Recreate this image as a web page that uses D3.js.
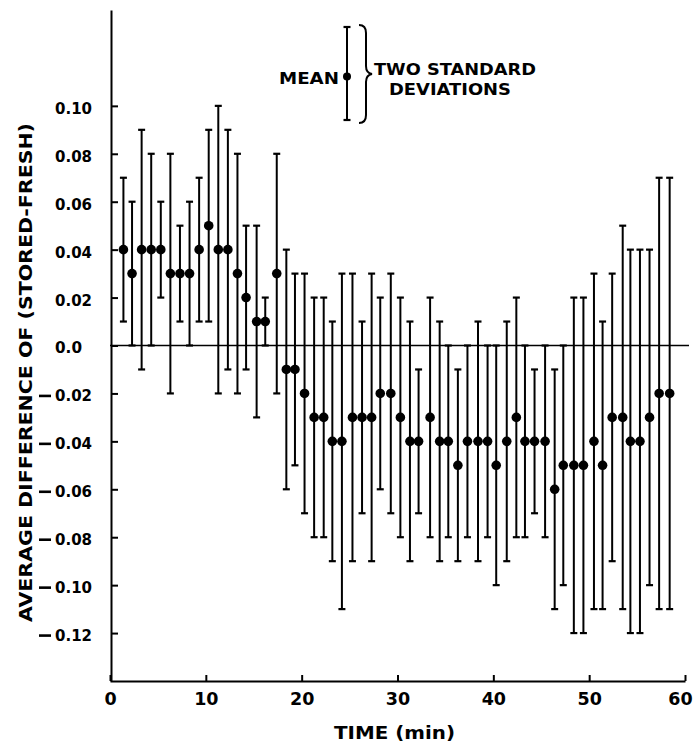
<!DOCTYPE html>
<html>
<head>
<meta charset="utf-8">
<script src="https://cdn.jsdelivr.net/npm/d3@7"></script>
<style>
  html, body { margin: 0; padding: 0; background: #fff; }
  svg { display: block; }
  text { font-family: "DejaVu Sans", sans-serif; font-weight: bold; fill: #000; }
</style>
</head>
<body>
<svg id="chart" width="696" height="742"></svg>
<script>
// Sampling times (min) of each measurement
const times = [1.4, 2.3, 3.3, 4.3, 5.3, 6.3, 7.3, 8.3, 9.3, 10.3,
  11.3, 12.3, 13.3, 14.2, 15.3, 16.2, 17.4, 18.4, 19.3, 20.3,
  21.3, 22.3, 23.2, 24.2, 25.3, 26.3, 27.3, 28.2, 29.3, 30.3,
  31.3, 32.2, 33.4, 34.4, 35.3, 36.3, 37.3, 38.4, 39.4, 40.3,
  41.4, 42.4, 43.3, 44.3, 45.4, 46.4, 47.3, 48.4, 49.4, 50.5,
  51.4, 52.4, 53.5, 54.3, 55.3, 56.3, 57.3, 58.4];

// Mean of (stored - fresh) at each time
const means = [0.04, 0.03, 0.04, 0.04, 0.04, 0.03, 0.03, 0.03, 0.04, 0.05,
  0.04, 0.04, 0.03, 0.02, 0.01, 0.01, 0.03, -0.01, -0.01, -0.02,
  -0.03, -0.03, -0.04, -0.04, -0.03, -0.03, -0.03, -0.02, -0.02, -0.03,
  -0.04, -0.04, -0.03, -0.04, -0.04, -0.05, -0.04, -0.04, -0.04, -0.05,
  -0.04, -0.03, -0.04, -0.04, -0.04, -0.06, -0.05, -0.05, -0.05, -0.04,
  -0.05, -0.03, -0.03, -0.04, -0.04, -0.03, -0.02, -0.02];

// Two standard deviations (half-length of each bar)
const twoSD = [0.03, 0.03, 0.05, 0.04, 0.02, 0.05, 0.02, 0.03, 0.03, 0.04,
  0.06, 0.05, 0.05, 0.03, 0.04, 0.01, 0.05, 0.05, 0.04, 0.05,
  0.05, 0.05, 0.05, 0.07, 0.06, 0.04, 0.06, 0.04, 0.05, 0.05,
  0.05, 0.03, 0.05, 0.05, 0.04, 0.04, 0.04, 0.05, 0.04, 0.05,
  0.05, 0.05, 0.04, 0.03, 0.04, 0.05, 0.05, 0.07, 0.07, 0.07,
  0.06, 0.06, 0.08, 0.08, 0.08, 0.07, 0.09, 0.09];

const xTickValues = [0, 10, 20, 30, 40, 50, 60];
const xTickLabels = ["0", "10", "20", "30", "40", "50", "60"];
const yTickValues = [0.10, 0.08, 0.06, 0.04, 0.02, 0.0, -0.02, -0.04, -0.06, -0.08, -0.10, -0.12];
const yTickLabels = ["0.10", "0.08", "0.06", "0.04", "0.02", "0.0",
  "-0.02", "-0.04", "-0.06", "-0.08", "-0.10", "-0.12"];

const svg = d3.select("#chart");

const x = d3.scaleLinear().domain([0, 60]).range([110, 685]);
const y = d3.scaleLinear().domain([-0.14, 0.14]).range([681, 10]);

// Y axis: ticks pointing inward, labels left-aligned with hanging minus
const yAxisG = svg.append("g")
  .attr("transform", "translate(111,0)")
  .call(d3.axisLeft(y)
    .tickValues(yTickValues)
    .tickSizeInner(-7)
    .tickSizeOuter(0)
    .tickFormat((d, i) => yTickLabels[i]));
yAxisG.select(".domain").attr("stroke", "#000").attr("stroke-width", 2);
yAxisG.selectAll(".tick line").attr("stroke", "#000").attr("stroke-width", 2);
yAxisG.selectAll(".tick").each(function (d, i) {
  const g = d3.select(this);
  const label = yTickLabels[i];
  const neg = label.startsWith("-");
  g.select("text")
    .text(neg ? label.slice(1) : label)
    .attr("text-anchor", "start")
    .attr("x", 55 - 111)
    .attr("dy", "0.48em")
    .attr("textLength", label.replace("-", "").length === 4 ? 37 : 27)
    .attr("lengthAdjust", "spacingAndGlyphs")
    .style("font-size", "15.5px")
    .style("font-family", "'DejaVu Sans', sans-serif")
    .style("font-weight", "bold");
  if (neg) {
    g.append("line")
      .attr("x1", 39 - 111).attr("x2", 51 - 111)
      .attr("y1", 2).attr("y2", 2)
      .attr("stroke", "#000").attr("stroke-width", 2.6);
  }
});

// X axis
const xAxisG = svg.append("g")
  .attr("transform", "translate(0,681)")
  .call(d3.axisBottom(x)
    .tickValues(xTickValues)
    .tickSizeInner(-6)
    .tickSizeOuter(0)
    .tickFormat((d, i) => xTickLabels[i]));
xAxisG.select(".domain").attr("stroke", "#000").attr("stroke-width", 2);
xAxisG.selectAll(".tick line").attr("stroke", "#000").attr("stroke-width", 2);
xAxisG.selectAll(".tick text")
  .attr("y", 12)
  .attr("dx", (d, i) => i === xTickValues.length - 1 ? -5 : 0)
  .style("font-size", "17.5px")
  .style("font-family", "'DejaVu Sans', sans-serif")
  .style("font-weight", "bold");

// Zero reference line
svg.append("line")
  .attr("x1", x(0)).attr("x2", 689)
  .attr("y1", y(0)).attr("y2", y(0))
  .attr("stroke", "#000").attr("stroke-width", 1.6);

// Error bars: mean +/- two standard deviations
const data = times.map((t, i) => ({ t, m: means[i], s: twoSD[i] }));
const bars = svg.append("g").selectAll("g").data(data).join("g");
bars.append("line")
  .attr("x1", d => x(d.t)).attr("x2", d => x(d.t))
  .attr("y1", d => y(d.m + d.s)).attr("y2", d => y(d.m - d.s))
  .attr("stroke", "#000").attr("stroke-width", 2);
bars.append("line")
  .attr("x1", d => x(d.t) - 3.5).attr("x2", d => x(d.t) + 3.5)
  .attr("y1", d => y(d.m + d.s)).attr("y2", d => y(d.m + d.s))
  .attr("stroke", "#000").attr("stroke-width", 2.2);
bars.append("line")
  .attr("x1", d => x(d.t) - 3.5).attr("x2", d => x(d.t) + 3.5)
  .attr("y1", d => y(d.m - d.s)).attr("y2", d => y(d.m - d.s))
  .attr("stroke", "#000").attr("stroke-width", 2.2);
bars.append("circle")
  .attr("cx", d => x(d.t)).attr("cy", d => y(d.m))
  .attr("r", 4.8).attr("fill", "#000");

// Axis titles
svg.append("text")
  .attr("transform", "translate(32,372.5) rotate(-90)")
  .attr("text-anchor", "middle")
  .attr("textLength", 499)
  .attr("lengthAdjust", "spacingAndGlyphs")
  .style("font-size", "17px")
  .text("AVERAGE DIFFERENCE OF (STORED-FRESH)");

svg.append("text")
  .attr("x", 394.5).attr("y", 739)
  .attr("text-anchor", "middle")
  .attr("textLength", 121)
  .attr("lengthAdjust", "spacingAndGlyphs")
  .style("font-size", "18px")
  .text("TIME (min)");

// Key
const key = svg.append("g");
key.append("line").attr("x1", 347).attr("x2", 347).attr("y1", 27).attr("y2", 120)
  .attr("stroke", "#000").attr("stroke-width", 2);
key.append("line").attr("x1", 343.5).attr("x2", 350.5).attr("y1", 27).attr("y2", 27)
  .attr("stroke", "#000").attr("stroke-width", 2.2);
key.append("line").attr("x1", 343.5).attr("x2", 350.5).attr("y1", 120).attr("y2", 120)
  .attr("stroke", "#000").attr("stroke-width", 2.2);
key.append("circle").attr("cx", 347).attr("cy", 76.5).attr("r", 4).attr("fill", "#000");
key.append("path")
  .attr("d", "M359,25 Q366,25 366,33 L366,66 Q366,73 372,74 Q366,75 366,82 L366,115 Q366,123 359,123")
  .attr("fill", "none").attr("stroke", "#000").attr("stroke-width", 2);
key.append("text").attr("x", 279).attr("y", 84)
  .attr("textLength", 60).attr("lengthAdjust", "spacingAndGlyphs")
  .style("font-size", "15.5px").text("MEAN");
key.append("text").attr("x", 374).attr("y", 74.5)
  .attr("textLength", 162).attr("lengthAdjust", "spacingAndGlyphs")
  .style("font-size", "15.5px").text("TWO STANDARD");
key.append("text").attr("x", 389).attr("y", 95)
  .attr("textLength", 122).attr("lengthAdjust", "spacingAndGlyphs")
  .style("font-size", "15.5px").text("DEVIATIONS");
</script>
</body>
</html>
